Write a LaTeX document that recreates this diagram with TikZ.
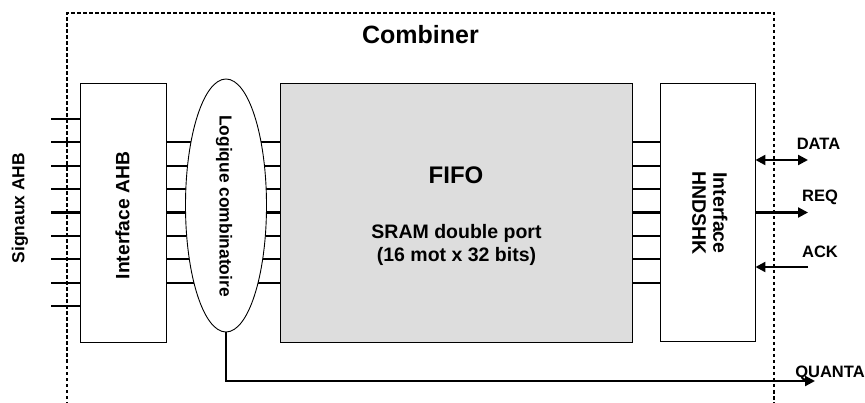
\documentclass[tikz,border=0pt]{standalone}
\usepackage{fontspec}
\setmainfont{Liberation Sans}
\usetikzlibrary{shapes.geometric, arrows.meta, positioning, calc}
\definecolor{FifoGray}{RGB}{221, 221, 221}

\begin{document}
\begin{tikzpicture}[
        x=1pt, y=-1pt,
        font=\bfseries,
        every node/.style={align=center, inner sep=0pt},
        blockbox/.style={rectangle, draw=black, fill=white, line width=0.9pt},
        fifobox/.style={blockbox, fill=FifoGray},
        logicshape/.style={ellipse, draw=black, fill=white, line width=0.9pt, minimum width=81pt, minimum height=253pt},
        frameline/.style={draw=black, line width=1.6pt, dash pattern=on 3.5pt off 2.5pt},
        busline/.style={draw=black, line width=2.3pt},
        arrow/.style={-{Triangle[length=10pt, width=10pt]}, draw=black, line width=2.3pt},
        biarrow/.style={{Triangle[length=10pt, width=10pt]}-{Triangle[length=10pt, width=10pt]}, draw=black, line width=2.3pt},
        sigfont/.style={font=\bfseries\fontsize{16.5}{19}\selectfont}
      ]
        \useasboundingbox (0,0) rectangle (865,403);

        % Combiner frame (open at the bottom)
        \coordinate (frameNW) at (67,13);
        \coordinate (frameNE) at (774,13);
        \draw[frameline] (67,405) -- (frameNW) -- (frameNE) -- (774,405);
        \node[font=\bfseries\fontsize{25}{30}\selectfont] (title) at (420.5,34.5) {Combiner};

        % Node 1: AHB interface
        \node[blockbox, minimum width=86pt, minimum height=259pt] (ahb) at (123,212.5) {};
        \node[font=\bfseries\fontsize{19.3}{22}\selectfont] (ahbtext) at (122.5,215.5) {\rotatebox{90}{Interface AHB}};
        \node[font=\bfseries\fontsize{17.4}{20}\selectfont] (ahbsig) at (20,208) {\rotatebox{90}{Signaux AHB}};

        % Node 2: FIFO
        \node[fifobox, minimum width=352pt, minimum height=259pt] (fifo) at (456,212.5) {};
        \node[font=\bfseries\fontsize{24}{28}\selectfont] (fifotitle) at (456,175) {FIFO};
        \node[font=\bfseries\fontsize{19.5}{22.5}\selectfont] (fifonote) at (456.5,245) {SRAM double port\\(16 mot x 32 bits)};

        % Node 3: handshake interface
        \node[blockbox, minimum width=95pt, minimum height=258pt] (hnd) at (707.5,212.5) {};
        \node[font=\bfseries\fontsize{19.5}{21}\selectfont] (hndtext) at (707,213) {\rotatebox{-90}{\begin{tabular}{@{}c@{}}Interface\\HNDSHK\end{tabular}}};

        % Buses
        \foreach \o in {-4,...,4}
          \draw[busline] ([yshift=23.4*\o pt]ahb.west) -- ++(-29,0);
        \foreach \o in {-3,...,3} {
          \draw[busline] ([yshift=23.4*\o pt]ahb.east) -- ([yshift=23.4*\o pt]fifo.west);
          \draw[busline] ([yshift=23.4*\o pt]fifo.east) -- ([yshift=23.4*\o pt]hnd.west);
        }

        % Node 4: combinational logic (covers the buses)
        \node[logicshape] (logic) at (226,205.5) {};
        \node[font=\bfseries\fontsize{17.4}{20}\selectfont] (logictext) at (224,206) {\rotatebox{-90}{Logique combinatoire}};

        % Handshake signals
        \coordinate (dataend) at (808,160);
        \coordinate (reqend) at (808,212.5);
        \coordinate (ackend) at (808,267);
        \coordinate (quantaend) at (815,381);
        \draw[biarrow] (hnd.east |- dataend) -- (dataend);
        \draw[arrow] (hnd.east) -- (reqend);
        \draw[arrow] (ackend) -- (hnd.east |- ackend);
        \draw[arrow] (logic.south) |- (quantaend);

        \node[sigfont] (datalbl) at (818.5,144) {DATA};
        \node[sigfont] (reqlbl) at (820,197) {REQ};
        \node[sigfont] (acklbl) at (820,251.5) {ACK};
        \node[sigfont] (quantalbl) at (830,373.5) {QUANTA};
      \end{tikzpicture}
\end{document}
